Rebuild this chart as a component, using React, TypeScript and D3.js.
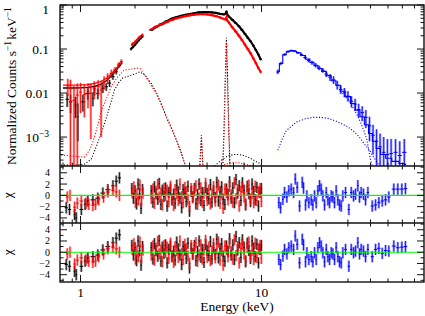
import React from 'react';
import * as d3 from 'd3';

// ------------------------------------------------------------
// values (energy in keV)
// low-energy XIS points: [keV, counts, lower, upper]
const blackLow = [
  [0.844, 0.0072, 0.0048, 0.0099], [0.881, 0.0063, 0.0035, 0.0092],
  [0.938, 0.0053, 0.0027, 0.0082], [0.966, 0.0029, 0.0008, 0.0058],
  [1.03, 0.0063, 0.0038, 0.009], [1.097, 0.0098, 0.007, 0.0128],
  [1.17, 0.0076, 0.005, 0.0104], [1.195, 0.0117, 0.0088, 0.0148],
  [1.246, 0.0098, 0.0072, 0.0126], [1.328, 0.0128, 0.01, 0.0158],
  [1.387, 0.0139, 0.0112, 0.0168], [1.446, 0.0167, 0.0138, 0.0198],
  [1.51, 0.0236, 0.02, 0.0275], [1.575, 0.0305, 0.0265, 0.0348],
  [1.64, 0.0435, 0.0385, 0.049],
];
const redLow = [
  [0.85, 0.0145, 0.0085, 0.021], [0.88, 0.0125, 0.00001, 0.02],
  [0.92, 0.0068, 0.00001, 0.0145], [0.96, 0.009, 0.00001, 0.0165],
  [1.0, 0.0105, 0.0035, 0.017], [1.05, 0.0092, 0.0028, 0.0158],
  [1.1, 0.0107, 0.0045, 0.0168], [1.14, 0.0098, 0.0009, 0.0165],
  [1.19, 0.0128, 0.0072, 0.0185], [1.25, 0.014, 0.0088, 0.0195],
  [1.3, 0.0117, 0.001, 0.019], [1.35, 0.018, 0.012, 0.024],
  [1.41, 0.0216, 0.016, 0.028], [1.48, 0.028, 0.022, 0.034],
  [1.55, 0.0334, 0.028, 0.039], [1.62, 0.0435, 0.038, 0.049],
  [1.68, 0.052, 0.046, 0.058],
];
const blackModelLow = [
  [0.8, 0.013], [0.9, 0.013], [1.0, 0.0131], [1.1, 0.0134], [1.2, 0.0142],
  [1.3, 0.016], [1.4, 0.0195], [1.5, 0.026], [1.6, 0.036], [1.7, 0.049],
];
const redModelLow = [
  [0.8, 0.0152], [0.9, 0.0152], [1.0, 0.0153], [1.1, 0.0156], [1.2, 0.0165],
  [1.3, 0.0185], [1.4, 0.022], [1.5, 0.029], [1.6, 0.039], [1.7, 0.052],
];
// dense part of the XIS spectra: [keV, counts]
const blackMid = [[1.9, 0.1], [1.95, 0.112], [2.0, 0.125], [2.05, 0.142], [2.1, 0.16], [2.15, 0.178], [2.2, 0.195]];
const redMid = [[1.92, 0.125], [1.96, 0.135], [2.0, 0.145], [2.05, 0.16], [2.1, 0.18], [2.15, 0.195], [2.2, 0.21]];
const blackHi = [
  [2.46, 0.27], [2.6, 0.31], [2.8, 0.37], [3.0, 0.43], [3.2, 0.49], [3.4, 0.53],
  [3.6, 0.57], [3.8, 0.6], [4.0, 0.62], [4.25, 0.65], [4.5, 0.68], [4.75, 0.69],
  [5.0, 0.69], [5.3, 0.68], [5.6, 0.66], [5.9, 0.63], [6.2, 0.61], [6.35, 0.64],
  [6.4, 0.72], [6.45, 0.62], [6.6, 0.55], [6.9, 0.46], [7.2, 0.39], [7.5, 0.33],
  [7.8, 0.27], [8.1, 0.22], [8.4, 0.18], [8.7, 0.15], [9.0, 0.12], [9.3, 0.095],
  [9.6, 0.075], [9.9, 0.058],
];
const redHi = [
  [2.46, 0.28], [2.6, 0.32], [2.8, 0.36], [3.0, 0.41], [3.2, 0.46], [3.4, 0.5],
  [3.6, 0.53], [3.8, 0.56], [4.0, 0.58], [4.25, 0.6], [4.5, 0.62], [4.75, 0.62],
  [5.0, 0.61], [5.3, 0.59], [5.6, 0.56], [5.9, 0.52], [6.2, 0.48], [6.35, 0.47],
  [6.4, 0.52], [6.45, 0.45], [6.6, 0.4], [6.9, 0.31], [7.2, 0.25], [7.5, 0.2],
  [7.8, 0.16], [8.1, 0.125], [8.4, 0.1], [8.7, 0.08], [9.0, 0.062], [9.3, 0.048],
  [9.6, 0.037], [9.9, 0.03],
];
// PIN points: [keV, counts, lower, upper]
const blueData = [
  [12.3, 0.03, 0.027, 0.034], [12.8, 0.047, 0.043, 0.051], [13.4, 0.075, 0.07, 0.08],
  [14.0, 0.088, 0.083, 0.093], [14.6, 0.092, 0.087, 0.097], [15.2, 0.09, 0.085, 0.095],
  [15.9, 0.082, 0.077, 0.087], [16.6, 0.074, 0.069, 0.079], [17.4, 0.064, 0.059, 0.069],
  [18.2, 0.055, 0.05, 0.06], [19.0, 0.049, 0.044, 0.054], [19.9, 0.043, 0.038, 0.048],
  [20.8, 0.037, 0.033, 0.042], [21.8, 0.033, 0.029, 0.037], [22.8, 0.027, 0.023, 0.031],
  [23.9, 0.023, 0.019, 0.027], [25.0, 0.02, 0.016, 0.024], [26.2, 0.015, 0.012, 0.019],
  [27.4, 0.012, 0.0095, 0.015], [28.7, 0.0105, 0.008, 0.013], [30.0, 0.0085, 0.0064, 0.011],
  [31.4, 0.0065, 0.0047, 0.0085], [32.9, 0.0056, 0.004, 0.0074], [34.4, 0.0042, 0.0028, 0.0057],
  [36.0, 0.0036, 0.0023, 0.005], [37.7, 0.0028, 0.0016, 0.0041], [39.5, 0.0018, 0.0008, 0.0029],
  [41.3, 0.0011, 0.0004, 0.0019], [43.2, 0.0008, 0.0002, 0.0015], [45.2, 0.0006, 0.0001, 0.0012],
  [47.3, 0.00045, 0.00005, 0.001], [49.6, 0.0004, 0.00001, 0.0009], [52.0, 0.00042, 0.00001, 0.0009],
  [55.0, 0.00045, 0.00001, 0.0009], [58.0, 0.00038, 0.00001, 0.0008], [61.5, 0.00045, 0.00001, 0.0009],
];
const blueModel = [
  [12.3, 0.031], [12.8, 0.047], [13.4, 0.074], [14.0, 0.087], [14.6, 0.091], [15.2, 0.089],
  [16, 0.082], [17, 0.071], [18, 0.059], [19, 0.05], [20, 0.042], [21, 0.036], [22, 0.031],
  [23.5, 0.025], [25, 0.019], [26.5, 0.015], [28, 0.011], [30, 0.0083], [32, 0.0058],
  [34, 0.0041], [36, 0.0029], [38, 0.0019], [40, 0.0012], [42, 0.0008], [44, 0.00055],
  [47, 0.0004], [50, 0.00033], [55, 0.00028], [60, 0.00025], [63, 0.00024],
];
// model components (dotted)
const blackSoft = [
  [0.78, 2.3e-4], [0.9, 2.3e-4], [1.05, 2.4e-4], [1.15, 3.2e-4], [1.22, 6e-4], [1.3, 1.2e-3],
  [1.39, 2.8e-3], [1.47, 6e-3], [1.54, 0.0117], [1.62, 0.017], [1.71, 0.022], [1.94, 0.026],
  [2.12, 0.03], [2.26, 0.026], [2.45, 0.017], [2.63, 0.01], [2.8, 5.5e-3], [2.98, 2.8e-3],
  [3.2, 1.5e-3], [3.39, 8.5e-4], [3.6, 4.5e-4], [3.8, 2.2e-4],
];
const redSoft = [
  [0.78, 3.9e-4], [0.9, 3.7e-4], [1.05, 3.5e-4], [1.12, 5e-4], [1.18, 8.5e-4], [1.25, 2e-3],
  [1.31, 4.2e-3], [1.4, 8e-3], [1.48, 0.014], [1.6, 0.023], [1.74, 0.033], [1.9, 0.035],
  [2.04, 0.037], [2.15, 0.035], [2.3, 0.023], [2.45, 0.015], [2.63, 0.0095], [2.8, 5.5e-3],
  [3.0, 2.8e-3], [3.2, 1.5e-3], [3.4, 8e-4], [3.6, 4.2e-4], [3.8, 2.2e-4],
];
const blackLine47 = [[4.55, 2e-4], [4.62, 6e-4], [4.65, 1.1e-3], [4.68, 6e-4], [4.75, 2e-4]];
const redLine47 = [[4.56, 2e-4], [4.62, 5.5e-4], [4.66, 1e-3], [4.69, 5.5e-4], [4.76, 2e-4]];
const blackFe = [[6.1, 2.2e-4], [6.2, 1.5e-3], [6.3, 0.02], [6.4, 0.18], [6.5, 0.02], [6.6, 1.5e-3], [6.7, 2.2e-4]];
const redFe = [[6.12, 2.2e-4], [6.22, 1.4e-3], [6.31, 0.018], [6.39, 0.15], [6.48, 0.018], [6.58, 1.4e-3], [6.68, 2.2e-4]];
const blackHard = [[5.5, 2.2e-4], [6.0, 3e-4], [6.5, 3.7e-4], [7.0, 4e-4], [7.5, 4e-4], [8.0, 3.8e-4], [8.7, 3.3e-4], [9.3, 2.8e-4], [10, 2.4e-4]];
const redHard = [[6.0, 2.2e-4], [6.5, 2.5e-4], [7.0, 2.6e-4], [7.5, 2.6e-4], [8.2, 2.4e-4], [9.0, 2.2e-4]];
const blueHump = [
  [12.3, 5e-4], [13.0, 9e-4], [13.7, 1.4e-3], [15.6, 2.2e-3], [17.5, 2.6e-3], [19.2, 2.8e-3],
  [21.5, 2.8e-3], [23.8, 2.6e-3], [26.5, 2.2e-3], [29.3, 1.8e-3], [32, 1.4e-3], [34.7, 1e-3],
  [37, 7e-4], [39.5, 5e-4], [42, 3.3e-4], [44.9, 2.2e-4],
];
const blueCut = [[28, 0.01], [29.3, 0.0083], [31, 0.006], [32.6, 0.0041], [34, 0.003], [35.5, 0.002], [37, 0.0013], [38.2, 8.6e-4], [39, 5.5e-4], [40, 3e-4], [41, 2.2e-4]];

// residuals, chi: [keV, chi]
const blackResLow = [
  [0.834, -2.2], [0.869, -2.5], [0.927, -3.4], [0.947, -4.0], [1.01, -2.5], [1.06, -1.6],
  [1.097, -1.0], [1.17, -0.8], [1.246, -0.5], [1.328, 0.4], [1.415, 1.0], [1.51, 1.7],
  [1.575, 2.5], [1.64, 3.1],
];
const redResLow = [
  [0.845, -0.3], [0.875, 0.0], [0.927, -2.1], [0.96, -1.4], [1.01, -1.0], [1.07, -1.4],
  [1.11, -1.6], [1.17, -1.8], [1.21, -1.6], [1.26, -0.8], [1.34, -0.3], [1.415, 0.6],
  [1.51, 0.9], [1.575, 0.6], [1.64, 0.0],
];
const blackResMid = [[1.92, 1.2], [1.96, -0.5], [2.0, 0.8], [2.04, -1.5], [2.08, 2.0], [2.12, 0.3], [2.16, -2.3], [2.2, 1.0]];
const redResMid = [[1.93, 0.5], [1.97, 1.5], [2.01, -1.2], [2.05, 0.2], [2.09, -0.8], [2.13, 1.8], [2.17, -1.0], [2.21, 0.4]];
const hiE = [
  2.46, 2.51, 2.56, 2.61, 2.67, 2.72, 2.78, 2.83, 2.89, 2.95,
  3.01, 3.07, 3.14, 3.2, 3.27, 3.33, 3.4, 3.47, 3.54, 3.62,
  3.69, 3.77, 3.84, 3.92, 4.0, 4.09, 4.17, 4.26, 4.34, 4.43,
  4.52, 4.62, 4.71, 4.81, 4.91, 5.01, 5.11, 5.22, 5.32, 5.43,
  5.55, 5.66, 5.78, 5.9, 6.02, 6.14, 6.27, 6.4, 6.53, 6.66,
  6.8, 6.94, 7.08, 7.23, 7.38, 7.53, 7.69, 7.84, 8.01, 8.17,
  8.34, 8.51, 8.69, 8.87, 9.05, 9.23, 9.42, 9.62, 9.81, 9.98,
];
const blackResHi = [
  0.8, -1.2, 1.5, 0.3, -0.7, 2.1, -1.6, 0.9, -0.2, 1.3,
  -1.9, 0.5, 1.1, -0.8, 0.2, -1.4, 1.8, 0.6, -0.5, -2.2,
  1.0, 0.4, -1.1, 1.6, -2.8, 0.7, -0.3, 1.2, -1.5, 0.1,
  2.0, -0.9, 0.5, -1.8, 1.4, 0.3, -0.6, 1.9, -1.2, 0.8,
  -0.4, 2.3, -1.0, 0.6, 1.5, -0.7, -1.6, 1.1, 0.2, 2.4,
  -0.5, 1.3, -1.3, 2.8, 0.4, 1.7, -0.9, 2.2, 0.9, -1.7,
  1.6, 0.3, -1.1, 2.0, 0.7, -0.8, 1.4, -1.9, 0.5, 1.2,
];
const redResHi = [
  -0.5, 1.1, -1.4, 0.7, 1.9, -0.3, 0.4, -1.7, 1.2, 0.0,
  0.9, -1.1, 1.6, -0.6, -1.8, 1.0, 0.3, -0.9, 2.0, -0.2,
  -1.3, 1.4, 0.6, -0.7, -2.0, 1.2, -0.4, 0.8, 1.7, -1.6,
  -0.5, 1.3, -1.2, 0.4, 2.1, -0.9, 0.9, -1.5, 0.2, 1.5,
  -1.0, 0.6, 1.8, -1.4, 0.3, -2.3, 1.1, 0.5, -0.8, 1.6,
  0.1, -1.2, 2.2, -0.6, 1.0, -1.9, 0.7, 1.4, -0.3, -1.5,
  0.9, 1.8, -0.7, 0.4, -1.3, 1.6, -0.9, 0.6, 1.2, -1.1,
];
const blueResE = [
  12.46, 12.74, 13.12, 13.4, 13.8, 14.15, 14.59, 15.03, 15.36, 15.75,
  16.22, 16.79, 17.06, 17.5, 17.8, 18.25, 18.82, 19.2, 19.63, 20.05,
  20.47, 20.92, 21.37, 21.82, 22.29, 22.78, 23.25, 23.76, 24.28, 24.77,
  25.31, 25.86, 26.4, 26.97, 27.56, 28.13, 29.12, 30.37, 31.31, 32.24,
  33.07, 34.04, 34.78, 35.54, 36.6, 37.55, 38.68, 40.9, 42.65, 44.48,
  46.44, 48.43, 50.5, 53.8, 56.6, 59.6, 62.4,
];
const blueRes1 = [
  -1.3, -2.2, -0.7, 0.5, -0.3, 0.8, 1.1, 0.5, 2.9, 1.4,
  -1.9, 2.3, 1.3, -1.7, -0.1, -1.3, -0.8, -1.7, -0.1, -1.3,
  0.8, 1.7, 1.1, -0.1, -1.7, 0.5, -0.8, -1.3, -0.1, -0.3,
  -1.3, 0.8, -0.8, -1.7, -1.9, -0.1, 0.5, -2.5, 0.5, -0.1,
  0.2, 1.7, -0.3, 0.5, 0.2, -0.8, 0.5, -1.9, -1.7, -1.3,
  -1.0, -0.8, -0.3, 1.1, 1.1, 1.1, 1.2,
];
const blueRes2 = [
  -1.3, -2.2, -0.7, 0.5, -0.3, 0.8, 1.1, 0.5, 2.9, 1.4,
  -1.9, 2.3, 1.3, -1.7, -0.1, -1.3, -0.8, -1.7, -0.1, -1.3,
  0.8, 1.7, 1.1, -0.1, -1.7, 0.5, -0.8, -1.3, -0.1, -0.3,
  -1.3, 0.8, -0.8, -1.7, -1.9, -0.1, 0.5, -2.5, 0.5, -0.1,
  0.2, 1.7, -0.3, 0.5, 0.2, -0.8, 0.5, -0.8, 0.5, 0.7,
  -0.2, 0.3, 0.2, 1.1, 0.8, 0.9, 1.0,
];

const xTickVals = [0.8, 0.9, 1, 2, 3, 4, 5, 6, 7, 8, 9, 10, 20, 30, 40, 50, 60, 70];
const xMajor = [1, 10];
const resLabels = [4, 2, 0, -2, -4];

// ------------------------------------------------------------
// layout
const L = 60, R = 424;
const mainTop = 5, mainBot = 166, r1Bot = 223, r2Bot = 282;
const FONT = 'Liberation Serif, Times New Roman, serif';
const BLACK = '#000000', RED = '#ff0000', BLUE = '#0000ff';

const x = d3.scaleLog().domain([0.77, 79]).range([L, R]);
const yM = d3.scaleLog().domain([2.2e-4, 1]).range([mainBot, mainTop]);
const yR1 = d3.scaleLinear().domain([-4.9, 5.2]).range([r1Bot, mainBot]);
const yR2 = d3.scaleLinear().domain([-5.3, 5.2]).range([r2Bot, r1Bot]);

const pathOf = (ys: any, pts: number[][], curve: any = d3.curveLinear) =>
  d3.line<number[]>().x(d => x(d[0])).y(d => ys(d[1])).curve(curve)(pts) || '';

// half bin width in px from the neighbouring points
const halfW = (es: number[], i: number) => {
  const a = i > 0 ? x(es[i]) - x(es[i - 1]) : Infinity;
  const b = i < es.length - 1 ? x(es[i + 1]) - x(es[i]) : Infinity;
  const g = Math.min(a, b);
  return isFinite(g) ? Math.min(g / 2, 4) : 1.5;
};

// points as [keV, value, lower, upper]
function ErrPts({ pts, ys, color }: { pts: number[][]; ys: any; color: string }) {
  const es = pts.map(p => p[0]);
  return (
    <g>
      {pts.map((p, i) => {
        const cx = x(p[0]);
        const hw = halfW(es, i);
        return (
          <g key={i}>
            <line x1={cx} x2={cx} y1={ys(p[2])} y2={ys(p[3])} stroke={color} strokeOpacity={0.4} strokeWidth={2.4} />
            <line x1={cx} x2={cx} y1={ys(p[2])} y2={ys(p[3])} stroke={color} strokeWidth={0.8} />
            <line x1={cx - hw} x2={cx + hw} y1={ys(p[1])} y2={ys(p[1])} stroke={color} strokeWidth={1} />
          </g>
        );
      })}
    </g>
  );
}

// chi residuals carry unit error bars
const chiPts = (es: number[], chis: number[]) =>
  es.slice(0, chis.length).map((e, i) => [e, chis[i], chis[i] - 1, chis[i] + 1]);
const chiPairs = (pairs: number[][]) => pairs.map(p => [p[0], p[1], p[1] - 1, p[1] + 1]);

function Dotted({ pts, ys, color }: { pts: number[][]; ys: any; color: string }) {
  return <path d={pathOf(ys, pts)} fill="none" stroke={color} strokeWidth={1.1} strokeDasharray="1.1,1.8" />;
}

function XTicks({ y0, y1 }: { y0: number; y1: number }) {
  // ticks pointing inward from the top (y0) and the bottom (y1) of a panel
  return (
    <g stroke="#111" strokeWidth={1}>
      {xTickVals.map(v => {
        const len = xMajor.includes(v) ? 7 : 3.5;
        const px = x(v);
        return (
          <g key={v}>
            <line x1={px} x2={px} y1={y0} y2={y0 + len} />
            <line x1={px} x2={px} y1={y1} y2={y1 - len} />
          </g>
        );
      })}
    </g>
  );
}

function YTicks({ ys, vals, major }: { ys: any; vals: number[]; major: (v: number) => boolean }) {
  return (
    <g stroke="#111" strokeWidth={1}>
      {vals.map(v => {
        const len = major(v) ? 7 : 3.5;
        const py = ys(v);
        return (
          <g key={v}>
            <line x1={L} x2={L + len} y1={py} y2={py} />
            <line x1={R} x2={R - len} y1={py} y2={py} />
          </g>
        );
      })}
    </g>
  );
}

const decades = [1e-3, 1e-2, 1e-1, 1];
const mainYTicks = [1e-4, 1e-3, 1e-2, 1e-1]
  .flatMap(d => [1, 2, 3, 4, 5, 6, 7, 8, 9].map(k => +(d * k).toPrecision(3)))
  .concat([1])
  .filter(v => v >= 2.2e-4 && v <= 1);
const isDecade = (v: number) => decades.some(d => Math.abs(v / d - 1) < 1e-6);
const resTicks = (ys: any) => d3.range(-5, 6).filter(v => v >= ys.domain()[0] && v <= ys.domain()[1]);

function Residuals({ ys, blue, clip }: { ys: any; blue: number[]; clip: string }) {
  return (
    <g clipPath={`url(#${clip})`}>
      <ErrPts pts={chiPairs(blackResLow)} ys={ys} color={BLACK} />
      <ErrPts pts={chiPairs(blackResMid)} ys={ys} color={BLACK} />
      <ErrPts pts={chiPts(hiE, blackResHi)} ys={ys} color={BLACK} />
      <ErrPts pts={chiPairs(redResLow)} ys={ys} color={RED} />
      <ErrPts pts={chiPairs(redResMid)} ys={ys} color={RED} />
      <ErrPts pts={chiPts(hiE, redResHi)} ys={ys} color={RED} />
      <ErrPts pts={chiPts(blueResE, blue)} ys={ys} color={BLUE} />
      <line x1={L} x2={R} y1={ys(0)} y2={ys(0)} stroke="#00ff00" strokeWidth={1.1} />
    </g>
  );
}

const sup = (s: string) => (
  <>
    <tspan dy={-5} fontSize={9.5}>{s}</tspan>
    <tspan dy={5}>{'\u200a'}</tspan>
  </>
);

export default function App() {
  const fmtRes = (v: number) => (v < 0 ? `\u2212${-v}` : `${v}`);
  return (
    <svg width={425} height={316} fontFamily={FONT}
      style={{ position: 'absolute', left: 0, top: 0, background: '#fff' }}>
      <defs>
        <clipPath id="cMain"><rect x={L} y={mainTop} width={R - L} height={mainBot - mainTop} /></clipPath>
        <clipPath id="cR1"><rect x={L} y={mainBot} width={R - L} height={r1Bot - mainBot} /></clipPath>
        <clipPath id="cR2"><rect x={L} y={r1Bot} width={R - L} height={r2Bot - r1Bot} /></clipPath>
      </defs>

      {/* main spectrum panel */}
      <g clipPath="url(#cMain)">
        <Dotted pts={blackSoft} ys={yM} color={BLACK} />
        <Dotted pts={redSoft} ys={yM} color={RED} />
        <Dotted pts={blackLine47} ys={yM} color={BLACK} />
        <Dotted pts={redLine47} ys={yM} color={RED} />
        <Dotted pts={blackFe} ys={yM} color={BLACK} />
        <Dotted pts={redFe} ys={yM} color={RED} />
        <Dotted pts={blackHard} ys={yM} color={BLACK} />
        <Dotted pts={redHard} ys={yM} color={RED} />
        <Dotted pts={blueHump} ys={yM} color={BLUE} />
        <Dotted pts={blueCut} ys={yM} color={BLUE} />

        <ErrPts pts={blackLow} ys={yM} color={BLACK} />
        <path d={pathOf(yM, blackModelLow)} fill="none" stroke={BLACK} strokeWidth={1.3} />
        <ErrPts pts={blackMid.map(p => [p[0], p[1], p[1] * 0.93, p[1] * 1.07])} ys={yM} color={BLACK} />
        <path d={pathOf(yM, blackMid)} fill="none" stroke={BLACK} strokeWidth={2} />
        <ErrPts pts={blackHi.map(p => [p[0], p[1], p[1] * 0.95, p[1] * 1.05])} ys={yM} color={BLACK} />
        <path d={pathOf(yM, blackHi)} fill="none" stroke={BLACK} strokeWidth={2.2} />

        <ErrPts pts={redLow} ys={yM} color={RED} />
        <path d={pathOf(yM, redModelLow)} fill="none" stroke={RED} strokeWidth={1.3} />
        <ErrPts pts={redMid.map(p => [p[0], p[1], p[1] * 0.93, p[1] * 1.07])} ys={yM} color={RED} />
        <path d={pathOf(yM, redMid)} fill="none" stroke={RED} strokeWidth={2} />
        <ErrPts pts={redHi.map(p => [p[0], p[1], p[1] * 0.94, p[1] * 1.06])} ys={yM} color={RED} />
        <path d={pathOf(yM, redHi)} fill="none" stroke={RED} strokeWidth={2.2} />

        <ErrPts pts={blueData} ys={yM} color={BLUE} />
        <path d={pathOf(yM, blueModel, d3.curveStep)} fill="none" stroke={BLUE} strokeWidth={1.1} />
      </g>

      <Residuals ys={yR1} blue={blueRes1} clip="cR1" />
      <Residuals ys={yR2} blue={blueRes2} clip="cR2" />

      {/* frames and ticks */}
      <g fill="none" stroke="#111" strokeWidth={1.4}>
        <rect x={L} y={mainTop} width={R - L} height={r2Bot - mainTop} />
        <line x1={L} x2={R} y1={mainBot} y2={mainBot} />
        <line x1={L} x2={R} y1={r1Bot} y2={r1Bot} />
      </g>
      <XTicks y0={mainTop} y1={mainBot} />
      <XTicks y0={mainBot} y1={r1Bot} />
      <XTicks y0={r1Bot} y1={r2Bot} />
      <YTicks ys={yM} vals={mainYTicks} major={isDecade} />
      <YTicks ys={yR1} vals={resTicks(yR1)} major={v => v % 2 === 0} />
      <YTicks ys={yR2} vals={resTicks(yR2)} major={v => v % 2 === 0} />

      {/* labels */}
      <g fontSize={13.5} fill="#000">
        <text x={49} y={9.5} dy="0.35em" textAnchor="end">1</text>
        <text x={49} y={yM(0.1)} dy="0.35em" textAnchor="end">0.1</text>
        <text x={49} y={yM(0.01)} dy="0.35em" textAnchor="end">0.01</text>
        <text x={49} y={yM(0.001)} dy="0.35em" textAnchor="end">10<tspan dy={-5} fontSize={9.5}>{'\u22123'}</tspan></text>
        <g fontSize={10}>
          {resLabels.map(v => (
            <text key={'a' + v} x={50} y={yR1(v)} dy="0.35em" textAnchor="end">{fmtRes(v)}</text>
          ))}
          {resLabels.map(v => (
            <text key={'b' + v} x={50} y={yR2(v)} dy="0.35em" textAnchor="end">{fmtRes(v)}</text>
          ))}
        </g>
        <text x={x(1)} y={297} textAnchor="middle">1</text>
        <text x={x(10)} y={297} textAnchor="middle">10</text>
        <text x={237} y={311} textAnchor="middle">Energy (keV)</text>
        <text transform={`translate(16,${(mainTop + mainBot) / 2}) rotate(-90)`} textAnchor="middle">
          Normalized Counts s{sup('\u22121')}keV{sup('\u22121')}
        </text>
        <text transform={`translate(12,${yR1(0)}) rotate(-90)`} textAnchor="middle">χ</text>
        <text transform={`translate(12,${yR2(0)}) rotate(-90)`} textAnchor="middle">χ</text>
      </g>
    </svg>
  );
}
